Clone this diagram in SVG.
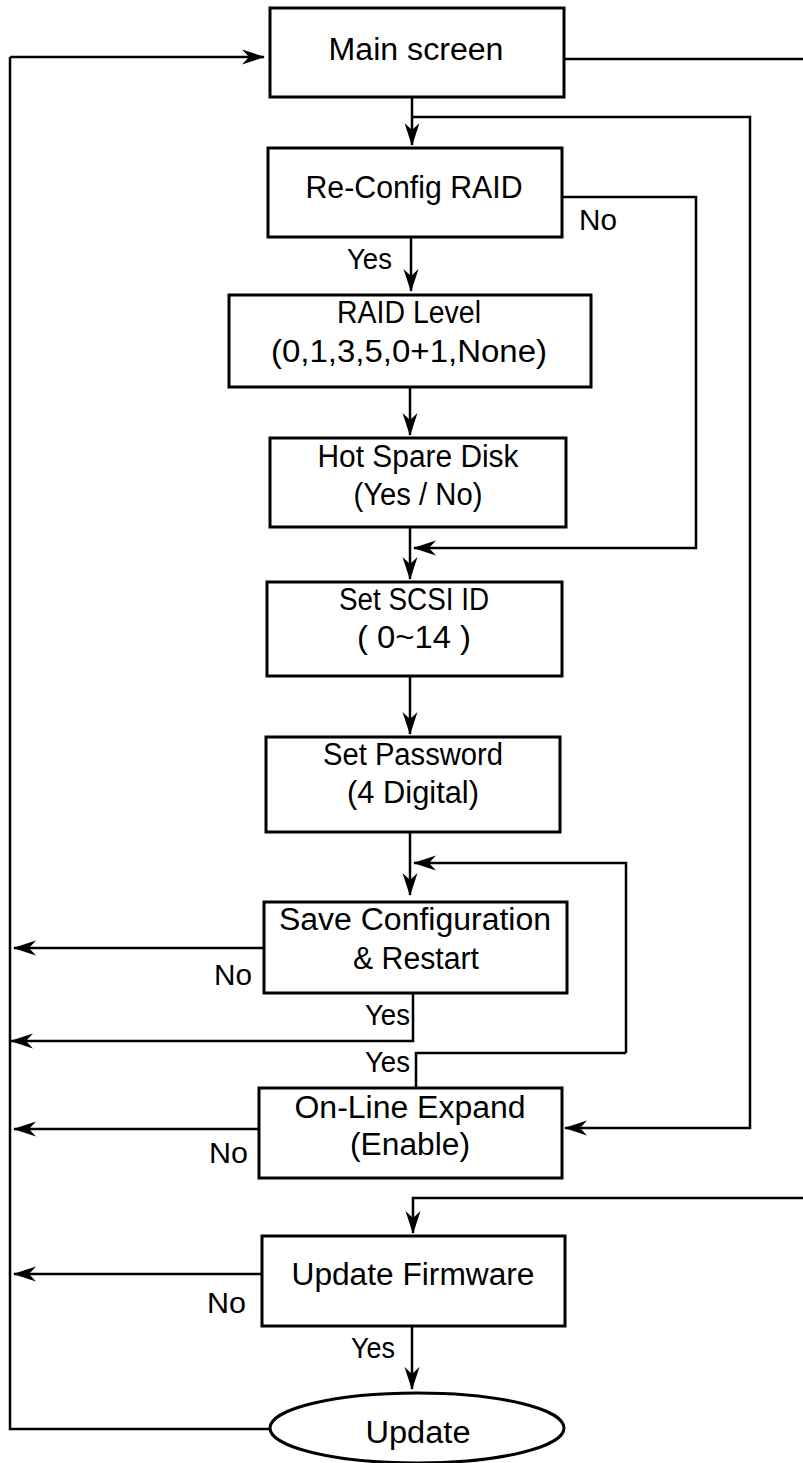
<svg xmlns="http://www.w3.org/2000/svg" width="803" height="1463" viewBox="0 0 803 1463">
<style>
.box{fill:#fff;stroke:#000;stroke-width:3}
.ln{fill:none;stroke:#000;stroke-width:2.5}
.t{font-family:"Liberation Sans",Arial,sans-serif;font-size:31px;fill:#000;text-anchor:middle}
.l{font-family:"Liberation Sans",Arial,sans-serif;font-size:30px;fill:#000}
</style>
<defs>
<marker id="ah" markerUnits="userSpaceOnUse" markerWidth="26" markerHeight="20" viewBox="-24 -10 26 20" refX="0" refY="0" orient="auto">
<path d="M1,0 L-22,-7.5 L-15,0 L-22,7.5 Z" fill="#000"/>
</marker>
</defs>
<g id="connectors">
<path class="ln" d="M10,57 V1429 H270"/>
<path class="ln" d="M10,57 H264" marker-end="url(#ah)"/>
<path class="ln" d="M564,59 H803"/>
<path class="ln" d="M412,97 V145" marker-end="url(#ah)"/>
<path class="ln" d="M412,117 H750 V1128 H565" marker-end="url(#ah)"/>
<path class="ln" d="M562,197 H696 V548 H414" marker-end="url(#ah)"/>
<path class="ln" d="M411,237 V291" marker-end="url(#ah)"/>
<path class="ln" d="M410,387 V435" marker-end="url(#ah)"/>
<path class="ln" d="M410,527 V579" marker-end="url(#ah)"/>
<path class="ln" d="M410,676 V734" marker-end="url(#ah)"/>
<path class="ln" d="M410,832 V895" marker-end="url(#ah)"/>
<path class="ln" d="M626,1053 V863 H414" marker-end="url(#ah)"/>
<path class="ln" d="M416,1088 V1053 H626"/>
<path class="ln" d="M264,948 H14" marker-end="url(#ah)"/>
<path class="ln" d="M413,993 V1041 H11" marker-end="url(#ah)"/>
<path class="ln" d="M259,1129 H14" marker-end="url(#ah)"/>
<path class="ln" d="M803,1198 H413 V1233" marker-end="url(#ah)"/>
<path class="ln" d="M262,1274 H14" marker-end="url(#ah)"/>
<path class="ln" d="M412,1326 V1389" marker-end="url(#ah)"/>
</g>
<g id="main-screen">
<rect class="box" x="270" y="8" width="294" height="89"/>
<text class="t" x="416" y="60" textLength="175" lengthAdjust="spacingAndGlyphs">Main screen</text>
</g>
<g id="reconfig-raid">
<rect class="box" x="268" y="148" width="294" height="89"/>
<text class="t" x="414" y="198" textLength="217" lengthAdjust="spacingAndGlyphs">Re-Config RAID</text>
</g>
<g id="raid-level">
<rect class="box" x="229" y="295" width="362" height="92"/>
<text class="t" x="409" y="323" textLength="144" lengthAdjust="spacingAndGlyphs">RAID Level</text>
<text class="t" x="409" y="362" textLength="276" lengthAdjust="spacingAndGlyphs">(0,1,3,5,0+1,None)</text>
</g>
<g id="hot-spare">
<rect class="box" x="270" y="438" width="296" height="89"/>
<text class="t" x="418" y="467" textLength="201" lengthAdjust="spacingAndGlyphs">Hot Spare Disk</text>
<text class="t" x="418" y="505" textLength="129" lengthAdjust="spacingAndGlyphs">(Yes / No)</text>
</g>
<g id="scsi-id">
<rect class="box" x="267" y="582" width="295" height="94"/>
<text class="t" x="414" y="610" textLength="150" lengthAdjust="spacingAndGlyphs">Set SCSI ID</text>
<text class="t" x="414" y="648" textLength="114" lengthAdjust="spacingAndGlyphs">( 0~14 )</text>
</g>
<g id="password">
<rect class="box" x="266" y="737" width="294" height="95"/>
<text class="t" x="413" y="765" textLength="180" lengthAdjust="spacingAndGlyphs">Set Password</text>
<text class="t" x="413" y="803" textLength="132" lengthAdjust="spacingAndGlyphs">(4 Digital)</text>
</g>
<g id="save-config">
<rect class="box" x="264" y="902" width="303" height="91"/>
<text class="t" x="415" y="930" textLength="272" lengthAdjust="spacingAndGlyphs">Save Configuration</text>
<text class="t" x="416" y="969" textLength="126" lengthAdjust="spacingAndGlyphs">&amp; Restart</text>
</g>
<g id="online-expand">
<rect class="box" x="259" y="1088" width="303" height="90"/>
<text class="t" x="410" y="1118" textLength="231" lengthAdjust="spacingAndGlyphs">On-Line Expand</text>
<text class="t" x="410" y="1155" textLength="120" lengthAdjust="spacingAndGlyphs">(Enable)</text>
</g>
<g id="update-firmware">
<rect class="box" x="262" y="1236" width="303" height="90"/>
<text class="t" x="413" y="1285" textLength="243" lengthAdjust="spacingAndGlyphs">Update Firmware</text>
</g>
<g id="update">
<ellipse class="box" cx="417" cy="1428" rx="147" ry="35"/>
<text class="t" x="418" y="1443" textLength="105" lengthAdjust="spacingAndGlyphs">Update</text>
</g>
<g id="labels">
<text class="l" x="579" y="230" textLength="38" lengthAdjust="spacingAndGlyphs">No</text>
<text class="l" x="347" y="269" textLength="45" lengthAdjust="spacingAndGlyphs">Yes</text>
<text class="l" x="214" y="985" textLength="38" lengthAdjust="spacingAndGlyphs">No</text>
<text class="l" x="365" y="1025" textLength="45" lengthAdjust="spacingAndGlyphs">Yes</text>
<text class="l" x="365" y="1072" textLength="45" lengthAdjust="spacingAndGlyphs">Yes</text>
<text class="l" x="209" y="1163" textLength="39" lengthAdjust="spacingAndGlyphs">No</text>
<text class="l" x="207" y="1313" textLength="39" lengthAdjust="spacingAndGlyphs">No</text>
<text class="l" x="351" y="1358" textLength="44" lengthAdjust="spacingAndGlyphs">Yes</text>
</g>
</svg>
